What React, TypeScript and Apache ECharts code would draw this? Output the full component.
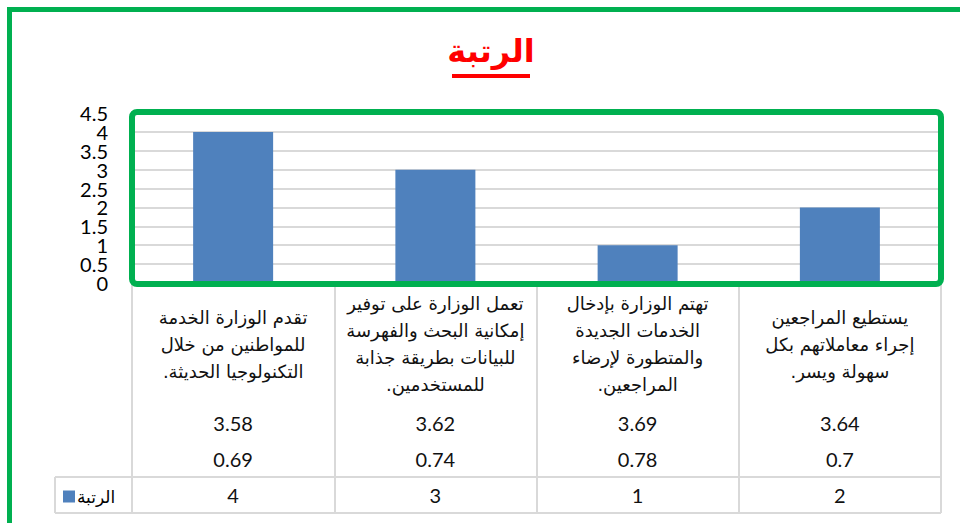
import React, { useEffect, useRef } from "react";
import * as echarts from "echarts";

const title = "الرتبة";
const seriesName = "الرتبة";
const categories = [
  "تقدم الوزارة الخدمة\nللمواطنين من خلال\nالتكنولوجيا الحديثة.\u200F",
  "تعمل الوزارة على توفير\nإمكانية البحث والفهرسة\nللبيانات بطريقة جذابة\nللمستخدمين.\u200F",
  "تهتم الوزارة بإدخال\nالخدمات الجديدة\nوالمتطورة لإرضاء\nالمراجعين.\u200F",
  "يستطيع المراجعين\nإجراء معاملاتهم بكل\nسهولة ويسر.\u200F",
];
const means = ["3.58", "3.62", "3.69", "3.64"];
const sds = ["0.69", "0.74", "0.78", "0.7"];
const ranks = [4, 3, 1, 2];
const yMin = 0;
const yMax = 4.5;
const yStep = 0.5;

const GREEN = "#00b050";
const GRID_LINE = "#d9d9d9";
const BAR = "#4f81bd";
const LATO = "Lato, 'Noto Sans', sans-serif";
const AR = "'DejaVu Sans', sans-serif";

export default function App() {
  const ref = useRef<HTMLDivElement>(null);
  useEffect(() => {
    if (!ref.current) return;
    const chart = echarts.init(ref.current, null, { renderer: "svg" });
    const gridLeft = 132;
    const gridRight = 941;
    const gridTop = 113;
    const gridBottom = 283;
    const valueAxisBase = {
      type: "category" as const,
      position: "bottom" as const,
      gridIndex: 0,
      axisLine: { show: false },
      axisTick: { show: false },
      splitLine: { show: false },
    };
    const isWhole = (v: number) => Math.abs(v - Math.round(v)) < 1e-6;
    const yAxisBase = (showWhole: boolean, withSplit: boolean) => ({
      type: "value" as const,
      position: "left" as const,
      min: yMin,
      max: yMax,
      interval: yStep,
      axisLine: { show: false },
      axisTick: { show: false },
      axisLabel: {
        fontSize: 20,
        lineHeight: 18,
        fontFamily: LATO,
        color: "#000",
        margin: 24,
        showMinLabel: true,
        showMaxLabel: true,
        formatter: (v: number) => (isWhole(v) === showWhole ? String(v) : ""),
      },
      splitLine: { show: withSplit, lineStyle: { color: GRID_LINE, width: 2 } },
    });
    chart.setOption({
      animation: false,
      backgroundColor: "#ffffff",
      grid: {
        left: gridLeft,
        right: 960 - gridRight,
        top: gridTop,
        bottom: 523 - gridBottom,
        containLabel: false,
      },
      legend: {
        data: [seriesName],
        left: 63,
        top: 488,
        padding: 0,
        icon: "rect",
        itemWidth: 12,
        itemHeight: 12,
        itemGap: 4,
        textStyle: { fontSize: 17, color: "#000", fontFamily: AR, padding: [0, 0, 0, -3] },
      },
      xAxis: [
        {
          ...valueAxisBase,
          data: categories,
          axisTick: {
            show: true,
            alignWithLabel: false,
            length: 230,
            lineStyle: { color: GRID_LINE, width: 2 },
          },
          axisLabel: {
            interval: 0,
            margin: 61,
            verticalAlign: "middle",
            lineHeight: 27,
            fontSize: 18,
            fontFamily: AR,
            color: "#111",
            align: "center",
          },
        },
        {
          ...valueAxisBase,
          data: means,
          axisLabel: { interval: 0, margin: 140, verticalAlign: "middle", fontSize: 20, fontFamily: LATO, color: "#111" },
        },
        {
          ...valueAxisBase,
          data: sds,
          axisLabel: { interval: 0, margin: 176, verticalAlign: "middle", fontSize: 20, fontFamily: LATO, color: "#111" },
        },
        {
          ...valueAxisBase,
          data: ranks.map(String),
          axisLabel: { interval: 0, margin: 212, verticalAlign: "middle", fontSize: 20, fontFamily: LATO, color: "#111" },
        },
      ],
      yAxis: [yAxisBase(true, true), yAxisBase(false, false)],
      series: [
        {
          name: seriesName,
          type: "bar",
          xAxisIndex: 0,
          yAxisIndex: 0,
          data: ranks,
          barWidth: 80,
          itemStyle: { color: BAR },
        },
      ],
      graphic: [
        {
          type: "rect",
          z: 100,
          shape: { x: 9.5, y: 9.5, width: 1000, height: 600 },
          style: { fill: "none", stroke: GREEN, lineWidth: 5 },
        },
        {
          type: "rect",
          z: 100,
          shape: { x: gridLeft, y: 112, width: gridRight - gridLeft, height: 172, r: 5 },
          style: { fill: "none", stroke: GREEN, lineWidth: 6 },
        },
        {
          type: "line",
          z: 90,
          shape: { x1: 55, y1: 477, x2: gridRight, y2: 477 },
          style: { stroke: GRID_LINE, lineWidth: 2 },
        },
        {
          type: "line",
          z: 90,
          shape: { x1: 55, y1: 513, x2: gridRight, y2: 513 },
          style: { stroke: GRID_LINE, lineWidth: 2 },
        },
        {
          type: "line",
          z: 90,
          shape: { x1: 55, y1: 477, x2: 55, y2: 513 },
          style: { stroke: GRID_LINE, lineWidth: 2 },
        },
        {
          type: "text",
          z: 100,
          x: 491,
          y: 51,
          style: {
            text: title,
            fill: "#ff0000",
            fontSize: 32,
            fontWeight: "bold",
            fontFamily: AR,
            align: "center",
            verticalAlign: "middle",
          },
        },
        {
          type: "rect",
          z: 100,
          shape: { x: 452, y: 74, width: 78, height: 4 },
          style: { fill: "#ff0000" },
        },
      ],
    });
    return () => chart.dispose();
  }, []);
  return (
    <div
      ref={ref}
      style={{ position: "absolute", left: 0, top: 0, width: 960, height: 523 }}
    />
  );
}
